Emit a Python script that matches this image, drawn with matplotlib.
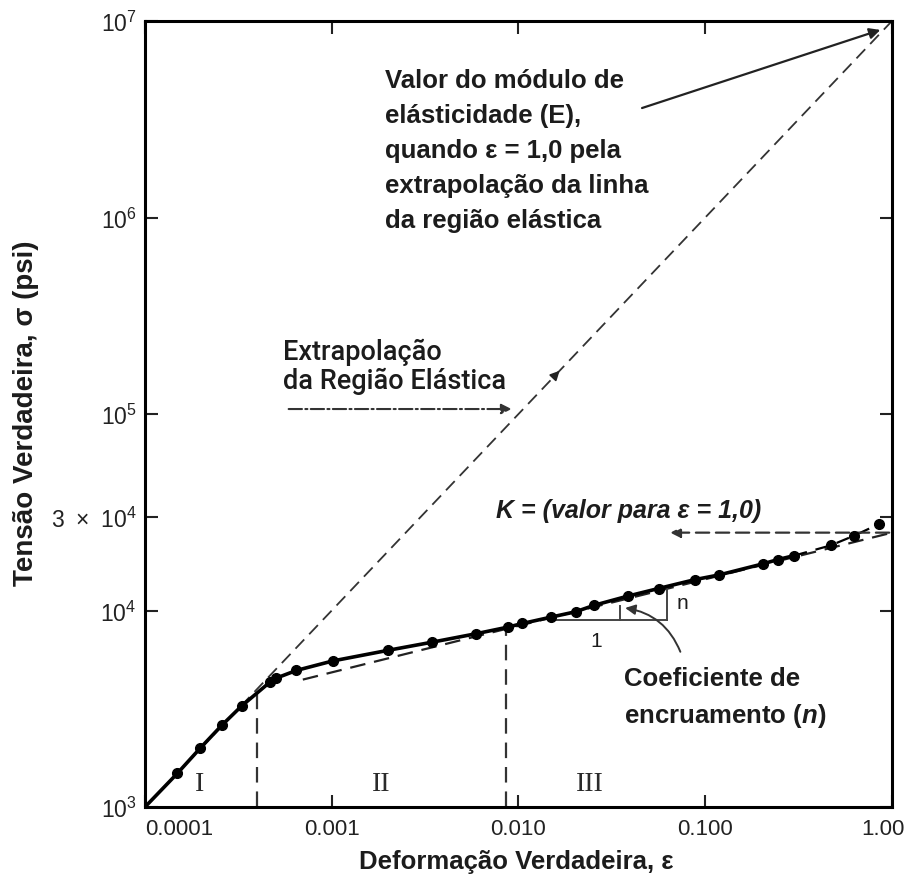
import matplotlib
matplotlib.use('Agg')
import matplotlib.pyplot as plt
from matplotlib import font_manager
from matplotlib.transforms import ScaledTranslation

strain = [1.49e-4, 1.97e-4, 2.58e-4, 3.29e-4, 4.66e-4, 5.02e-4, 6.47e-4, 1.01e-3,
          2.0e-3, 3.45e-3, 5.94e-3, 8.77e-3, 1.05e-2, 1.49e-2, 2.02e-2, 2.55e-2,
          3.84e-2, 5.62e-2, 8.83e-2, 0.119, 0.203, 0.244, 0.299, 0.470, 0.627, 0.851]
stress = [1483, 1987, 2607, 3265, 4315, 4520, 4955, 5534,
          6270, 6900, 7620, 8230, 8590, 9250, 9850, 10640,
          11830, 12940, 14370, 15180, 17260, 18150, 19020, 21450, 24030, 27540]
curve_start = (1e-4, 1e3)
solid_until = 0.3

# extrapolation lines
elastic_eps = [1e-4, 1.0]
elastic_sig = [1e3, 1e7]
plastic_eps = [7.0e-4, 1.0]
plastic_sig = [4450, 24900]
K_value = 24900

# region boundaries
bounds_eps = [4.0e-4, 8.6e-3]
bounds_sig = [3750, 8230]
regions = ['I', 'II', 'III']
regions_eps = [1.95e-4, 1.85e-3, 0.024]

xticks = [1e-4, 1e-3, 1e-2, 1e-1, 1.0]
xtick_labels = ['0.0001', '0.001', '0.010', '0.100', '1.00']
yticks = [1e3, 1e4, 3e4, 1e5, 1e6, 1e7]
ytick_labels = [r'$\mathregular{10^3}$', r'$\mathregular{10^4}$',
                r'$\mathregular{3\ \times\ 10^4}$', r'$\mathregular{10^5}$',
                r'$\mathregular{10^6}$', r'$\mathregular{10^7}$']

names = {f.name for f in font_manager.fontManager.ttflist}
tick_font = 'Liberation Sans Narrow' if 'Liberation Sans Narrow' in names else 'Liberation Sans'

plt.rcParams['font.family'] = ['Liberation Sans', 'DejaVu Sans']
plt.rcParams['mathtext.fontset'] = 'custom'
plt.rcParams['mathtext.bfit'] = 'Liberation Sans:italic:bold'

ink = '#1c1c1c'
fig = plt.figure(figsize=(9.12, 8.87), dpi=100)
ax = fig.add_axes([145/912, 1-808/887, 747/912, 786/887])
ax.set_xscale('log')
ax.set_yscale('log')
ax.set_xlim(1e-4, 1.0)
ax.set_ylim(1e3, 1e7)

# extrapolation lines
ax.plot(elastic_eps, elastic_sig, color='#333333', lw=1.3, dashes=(7, 4), zorder=2)
ax.plot(plastic_eps, plastic_sig, color='#222222', lw=1.6, dashes=(7, 4), zorder=2)

# data curve
solid_x = [curve_start[0]] + [e for e in strain if e <= solid_until]
solid_y = [curve_start[1]] + [s for e, s in zip(strain, stress) if e <= solid_until]
ax.plot(solid_x, solid_y, color='black', lw=2.6, zorder=3)
tail_x = [e for e in strain if e >= 0.29]
tail_y = [s for e, s in zip(strain, stress) if e >= 0.29]
ax.plot(tail_x, tail_y, color='black', lw=1.6, dashes=(6, 4), zorder=3)
ax.plot(strain, stress, 'o', color='black', ms=7, zorder=4)

# region boundaries and numerals
for e, s in zip(bounds_eps, bounds_sig):
    ax.plot([e, e], [1e3, s], color='#333333', lw=1.6, dashes=(7, 4), zorder=2)
for lab, e in zip(regions, regions_eps):
    ax.text(e, 1310, lab, family=['Liberation Serif'], fontsize=20, color='#2a2a2a',
            ha='center', va='center')

# slope triangle
ax.plot([0.0147, 0.0627], [8990, 8990], color='#444444', lw=1.4, zorder=2)
ax.plot([0.0627, 0.0627], [8990, 13090], color='#444444', lw=1.4, zorder=2)
ax.plot([0.0351, 0.0351], [8990, 10600], color='#444444', lw=1.4, zorder=2)
ax.text(0.0261, 7050, '1', fontsize=15, color=ink, ha='center', va='center')
ax.text(0.0753, 11000, 'n', fontsize=15, color=ink, ha='center', va='center')

# annotations
ax.text(1.92e-3, 2.21e6,
        'Valor do módulo de\nelásticidade (E),\nquando ε = 1,0 pela\n'
        'extrapolação da linha\nda região elástica',
        fontsize=18.5, fontweight='bold', color=ink, ha='left', va='center',
        linespacing=1.58)
ax.annotate('', xy=(0.895, 9.1e6), xytext=(0.0444, 3.57e6),
            arrowprops=dict(arrowstyle='-|>', color='#222222', lw=1.6, mutation_scale=16))

ax.text(5.47e-4, 1.75e5, 'Extrapolação\nda Região Elástica', family=['Roboto'],
        fontsize=19.5, fontweight='medium', color=ink, ha='left', va='center',
        linespacing=1.1)
ax.annotate('', xy=(9.5e-3, 1.06e5), xytext=(5.68e-4, 1.06e5),
            arrowprops=dict(arrowstyle='-|>', color='#333333', lw=1.5,
                            linestyle='-.', mutation_scale=15))
ax.annotate('', xy=(0.0170, 1.70e5), xytext=(0.0150, 1.50e5),
            arrowprops=dict(arrowstyle='-|>', color='#222222', lw=1.2, mutation_scale=14))

ax.text(7.62e-3, 32600, 'K = (valor para ε = 1,0)', fontsize=18, fontweight='bold',
        fontstyle='italic', color=ink, ha='left', va='center')
ax.annotate('', xy=(0.0627, K_value), xytext=(1.0, K_value),
            arrowprops=dict(arrowstyle='-|>', color='#333333', lw=1.6,
                            linestyle=(0, (6, 3)), mutation_scale=15))

ax.text(0.0369, 3615, 'Coeficiente de\nencruamento ($\\mathbfit{n}$)', fontsize=18.5,
        fontweight='bold', color=ink, ha='left', va='center', linespacing=1.5)
ax.annotate('', xy=(0.036, 10350), xytext=(0.0745, 5980),
            arrowprops=dict(arrowstyle='-|>', color='#333333', lw=1.4, mutation_scale=15,
                            connectionstyle='arc3,rad=0.3'))

# axes styling
for sp in ax.spines.values():
    sp.set_linewidth(2.2)
ax.minorticks_off()
ax.set_xticks(xticks)
ax.set_xticklabels(xtick_labels, family=[tick_font], fontsize=16)
ax.set_yticks(yticks)
ax.set_yticklabels(ytick_labels, family=[tick_font], fontsize=16.5)
ax.tick_params(which='major', direction='in', top=True, right=True, length=9, width=1.5,
               colors='#222222')
ax.tick_params(axis='x', pad=8)
ax.tick_params(axis='y', pad=6)
xl = ax.get_xticklabels()
xl[0].set_horizontalalignment('left')
xl[-1].set_horizontalalignment('right')
xl[-1].set_transform(xl[-1].get_transform() + ScaledTranslation(13/100, 0, fig.dpi_scale_trans))

fig.text(516/912, 1-862/887, 'Deformação Verdadeira, ε', fontsize=18.5, fontweight='bold',
         color=ink, ha='center', va='center')
fig.text(26/912, 1-413/887, 'Tensão Verdadeira, σ (psi)', fontsize=20, fontweight='bold',
         color=ink, ha='center', va='center', rotation=90)

fig.savefig('out.png', dpi=100)
